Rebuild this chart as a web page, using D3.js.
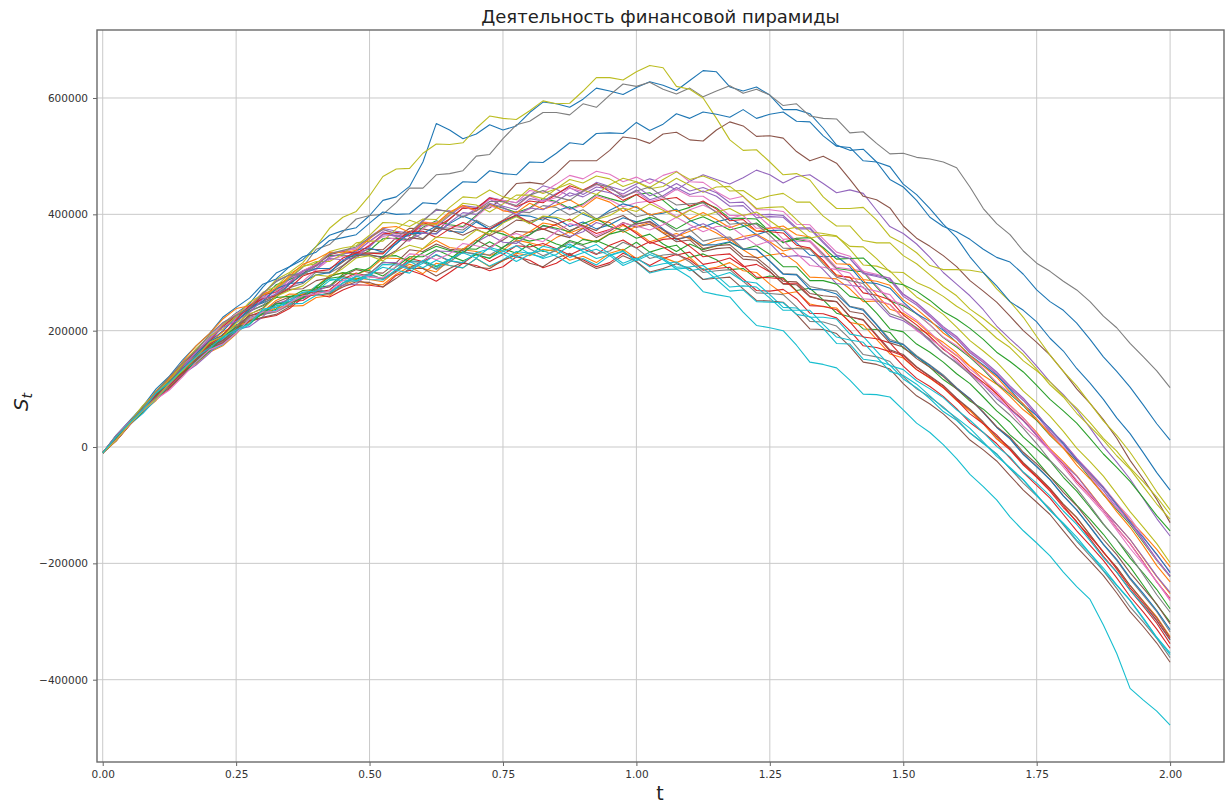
<!DOCTYPE html>
<html>
<head>
<meta charset="utf-8">
<script src="https://cdn.jsdelivr.net/npm/d3@7"></script>
<style>
  body { margin: 0; background: #fff; }
  svg { display: block; font-family: "DejaVu Sans", sans-serif; }
</style>
</head>
<body>
<svg id="chart" width="1227" height="803"></svg>
<script>
// time grid of the samples (t)
const tValues = [0, 0.025, 0.05, 0.075, 0.1, 0.125, 0.15, 0.175, 0.2, 0.225, 0.25, 0.275, 0.3, 0.325,
  0.35, 0.375, 0.4, 0.425, 0.45, 0.475, 0.5, 0.525, 0.55, 0.575, 0.6, 0.625, 0.65, 0.675, 0.7,
  0.725, 0.75, 0.775, 0.8, 0.825, 0.85, 0.875, 0.9, 0.925, 0.95, 0.975, 1.0, 1.025, 1.05, 1.075,
  1.1, 1.125, 1.15, 1.175, 1.2, 1.225, 1.25, 1.275, 1.3, 1.325, 1.35, 1.375, 1.4, 1.425, 1.45,
  1.475, 1.5, 1.525, 1.55, 1.575, 1.6, 1.625, 1.65, 1.675, 1.7, 1.725, 1.75, 1.775, 1.8, 1.825,
  1.85, 1.875, 1.9, 1.925, 1.95, 1.975, 2.0];

const xTicks = [0, 0.25, 0.5, 0.75, 1.0, 1.25, 1.5, 1.75, 2.0];
const yTicks = [-400000, -200000, 0, 200000, 400000, 600000];

// S_t paths, in thousands
const s00 = [-10,18,42,64,92,119,140,160,185,211,230,246,275,299,310,322,345,364,372,377,398,424,430,448,490,556,545,530,538,554,545,552,575,593,590,584,598,617,612,606,618,628,622,613,630,647,645,619,612,619,605,580,580,573,548,519,510,512,490,460,447,424,395,379,370,357,340,326,318,297,270,250,235,213,185,155,130,103,72,40,12];
const s01 = [-10,13,42,65,85,104,127,152,171,181,202,221,228,233,246,260,261,263,282,290,288,284,303,314,307,301,322,339,336,329,338,356,351,345,360,370,358,353,367,381,370,353,360,367,358,346,355,358,339,325,330,333,317,292,291,289,272,250,251,245,221,204,194,180,162,139,123,108,87,64,46,25,-2,-26,-47,-70,-97,-126,-150,-176,-206];
const s02 = [-10,18,41,60,84,105,133,152,167,194,210,216,230,237,257,269,271,290,293,288,298,318,315,308,320,310,322,341,340,353,341,333,349,336,340,355,348,355,345,338,352,335,342,347,326,332,322,305,307,289,294,291,269,273,253,230,224,203,202,197,170,156,137,116,100,79,65,45,21,1,-24,-51,-73,-100,-124,-150,-180,-206,-238,-271,-301];
const s03 = [-10,12,38,66,89,110,128,148,174,184,202,225,234,247,250,252,266,270,289,299,293,289,303,324,319,330,320,316,332,319,331,346,344,350,341,330,341,331,347,356,342,353,344,330,335,314,318,325,310,314,301,281,282,259,252,250,224,218,191,165,157,137,121,105,83,63,40,14,-5,-31,-52,-76,-104,-128,-158,-188,-215,-246,-274,-303,-338];
const s04 = [-10,18,43,65,93,121,144,161,183,209,228,239,263,286,296,299,313,331,337,341,361,376,371,368,390,407,406,396,409,429,424,420,433,449,443,431,439,455,448,441,452,461,454,442,457,468,460,452,463,476,468,454,465,468,453,437,442,436,407,379,367,349,326,300,280,260,236,208,186,165,139,112,90,64,33,1,-26,-55,-89,-123,-153];
const s05 = [-10,13,42,68,90,112,138,161,178,191,215,238,250,261,280,297,300,301,318,334,340,339,360,376,375,370,392,411,410,411,428,453,455,452,470,492,492,492,510,533,530,522,538,541,528,526,545,559,552,534,535,531,508,492,500,488,460,431,425,411,380,359,345,329,310,286,268,249,225,200,180,158,130,100,75,47,15,-23,-55,-90,-130];
const s06 = [-10,19,42,66,94,112,136,162,185,208,220,234,257,266,288,301,305,326,332,335,353,369,361,363,384,382,402,414,406,428,424,420,441,438,452,467,461,474,469,456,464,453,467,474,456,455,439,426,431,408,408,405,383,382,358,335,328,302,297,290,262,247,226,205,188,164,147,127,103,83,57,29,8,-19,-43,-68,-97,-122,-154,-186,-214];
const s07 = [-10,13,40,65,85,110,132,152,178,192,215,238,248,274,290,309,340,348,370,392,398,400,420,445,445,468,470,475,500,503,530,554,560,575,575,571,590,584,605,624,620,627,615,607,617,602,612,621,608,615,605,587,590,569,565,564,540,542,522,504,505,498,495,490,480,447,410,384,365,337,316,302,285,270,250,225,205,178,155,131,102];
const s08 = [-10,17,40,61,88,116,138,159,185,210,228,239,262,288,300,317,345,376,395,405,432,465,478,479,505,521,520,523,548,569,565,563,578,595,590,591,612,635,635,631,645,656,652,620,615,600,565,528,510,511,490,468,470,459,430,410,410,412,390,362,350,334,312,305,305,304,300,272,250,223,190,158,130,105,75,45,20,-9,-42,-77,-108];
const s09 = [-10,11,38,63,84,102,125,148,165,177,200,220,228,235,250,266,268,267,282,294,296,289,305,320,318,307,322,336,330,325,336,346,332,326,340,349,336,324,330,337,318,299,305,306,292,267,262,258,232,209,205,200,175,146,142,136,115,91,90,86,64,41,25,4,-20,-47,-68,-91,-120,-144,-165,-187,-215,-240,-262,-306,-355,-415,-435,-454,-478];
const s10 = [-10,20,45,70,100,122,150,174,195,223,240,256,280,289,310,327,335,355,360,365,385,404,400,401,420,418,438,456,455,475,470,468,490,489,505,523,520,539,540,539,558,544,555,573,565,576,572,567,580,565,572,576,560,559,535,517,515,492,490,482,452,434,410,383,360,327,300,277,250,235,215,187,165,135,110,82,50,23,-10,-44,-74];
const s11 = [-10,11,37,61,80,106,129,143,163,174,194,218,228,240,242,243,257,260,278,287,280,279,297,310,298,316,312,308,324,310,320,333,329,340,336,321,328,317,333,340,324,335,326,317,326,305,309,317,303,300,280,263,267,246,241,239,214,210,185,160,153,133,118,102,80,62,40,15,-3,-29,-50,-72,-99,-122,-151,-181,-207,-238,-265,-292,-326];
const s12 = [-10,18,43,66,96,120,138,160,187,212,230,237,256,279,288,297,317,329,330,326,338,358,359,356,378,389,382,379,398,417,411,403,411,427,422,410,418,434,427,421,434,437,424,405,412,421,411,393,393,392,370,351,357,353,331,307,304,301,275,251,243,229,210,188,172,154,133,109,91,71,46,20,-2,-24,-53,-82,-107,-133,-164,-195,-223];
const s13 = [-10,11,38,62,82,100,123,149,169,178,198,216,222,226,238,257,263,258,270,279,278,275,295,304,296,285,300,316,312,303,310,327,321,308,316,330,322,310,317,333,324,312,324,331,322,304,307,309,289,269,268,271,255,230,229,222,200,174,171,164,139,118,104,87,66,42,25,6,-19,-44,-66,-88,-116,-144,-169,-195,-225,-257,-284,-313,-346];
const s14 = [-10,20,44,65,90,112,141,167,189,211,222,237,260,269,290,303,307,327,332,336,354,370,363,363,382,379,398,415,412,426,414,408,427,423,436,446,434,447,443,435,448,432,440,453,440,446,437,420,421,399,400,398,377,377,353,330,324,298,293,287,259,244,224,203,186,162,145,125,101,80,54,26,4,-24,-49,-75,-105,-130,-162,-194,-222];
const s15 = [-10,12,39,68,92,113,131,146,167,183,208,226,230,249,258,258,271,275,294,305,300,299,317,339,336,349,340,338,356,344,356,371,369,375,366,360,376,360,371,386,378,383,368,353,356,336,341,343,323,321,302,280,279,258,253,250,224,219,193,167,159,138,122,106,84,65,43,18,-1,-27,-48,-71,-98,-121,-151,-181,-207,-238,-266,-294,-328];
const s16 = [-10,18,42,61,86,114,137,154,175,201,220,232,256,273,276,285,305,322,328,330,348,362,357,354,376,387,380,377,396,415,408,400,409,425,420,408,416,432,425,413,420,423,410,396,408,416,405,393,399,400,380,357,359,355,333,309,306,303,277,253,245,230,210,189,174,156,135,111,93,73,48,22,0,-22,-51,-80,-105,-131,-162,-194,-222];
const s17 = [-10,11,38,65,89,107,129,150,165,180,206,223,228,232,244,264,271,266,278,293,298,288,301,318,318,305,318,335,332,330,344,354,341,329,338,353,346,332,337,352,342,324,330,332,318,300,303,305,285,265,264,262,241,216,215,208,186,159,155,147,121,100,86,69,48,24,7,-12,-37,-62,-84,-106,-134,-162,-187,-213,-243,-275,-301,-329,-362];
const s18 = [-10,18,41,65,94,116,145,166,183,211,228,243,266,276,298,311,315,336,342,346,364,386,385,379,392,391,412,430,428,442,430,425,445,436,444,460,454,466,461,448,456,446,460,473,460,466,457,440,441,425,432,436,421,421,397,380,380,355,351,351,329,315,296,276,260,237,221,202,179,159,134,107,86,58,35,12,-15,-38,-68,-98,-124];
const s19 = [-10,11,37,62,82,108,131,145,165,176,196,220,230,243,246,247,261,264,282,293,288,287,305,319,308,321,312,308,324,311,322,336,333,338,328,315,324,313,329,336,320,331,322,306,308,288,293,300,285,282,262,240,239,223,223,220,194,190,165,140,133,114,100,85,64,46,25,1,-17,-43,-62,-84,-110,-133,-161,-190,-215,-246,-272,-299,-332];
const s20 = [-10,14,42,70,93,110,134,160,182,199,224,242,248,257,280,298,307,307,320,339,342,335,349,370,368,367,384,397,388,374,386,399,397,390,406,413,400,391,407,418,412,399,402,409,390,378,387,393,381,365,372,373,351,330,327,328,310,283,281,273,249,229,216,201,180,158,141,123,99,73,54,32,6,-22,-45,-70,-99,-129,-156,-184,-216];
const s21 = [-10,17,39,63,91,117,140,156,178,198,209,215,233,252,263,262,276,295,299,297,305,325,324,323,341,355,343,340,357,372,371,358,370,385,381,368,377,390,386,369,379,386,369,362,371,379,368,354,362,366,353,337,342,342,318,296,291,287,262,237,230,215,195,174,157,139,116,91,72,50,25,-3,-25,-49,-78,-107,-133,-159,-191,-223,-252];
const s22 = [-10,13,43,67,87,110,128,149,174,189,217,234,243,257,259,261,274,277,297,307,303,294,310,327,327,339,329,320,331,324,343,360,354,359,349,342,357,352,366,372,359,366,349,336,349,339,346,352,340,346,331,310,310,286,286,280,259,254,230,203,198,177,163,146,126,109,86,62,43,17,-3,-24,-52,-76,-104,-133,-159,-191,-217,-245,-278];
const s23 = [-10,18,42,65,94,116,143,165,181,207,226,237,262,267,282,303,313,331,336,333,346,366,369,364,386,378,392,411,410,428,422,413,423,420,434,449,442,453,439,424,434,420,426,429,414,423,409,389,391,371,370,368,347,342,321,294,292,265,261,253,227,210,190,168,152,129,111,92,67,46,20,-7,-30,-59,-83,-109,-139,-166,-198,-232,-260];
const s24 = [-10,16,38,58,84,107,125,141,161,185,202,207,224,246,254,255,267,278,278,280,298,317,317,306,320,337,336,333,352,365,352,350,365,380,374,362,370,386,379,372,384,387,374,362,376,384,373,356,357,364,350,327,329,326,305,281,278,275,249,225,217,202,182,161,146,128,107,83,65,45,20,-6,-28,-50,-79,-108,-133,-159,-190,-222,-250];
const s25 = [-10,12,41,65,85,102,124,150,170,179,199,217,223,228,241,261,268,263,275,284,283,275,290,307,307,294,307,318,309,307,321,330,316,310,325,333,319,307,314,329,319,301,307,315,307,288,290,292,272,252,251,249,228,203,202,195,173,146,142,134,109,88,74,57,36,12,-5,-24,-49,-74,-95,-116,-144,-172,-196,-221,-251,-283,-309,-337,-370];
const s26 = [-10,19,43,67,95,112,136,163,186,213,229,243,265,268,283,303,314,333,337,341,359,374,366,367,387,384,403,414,405,426,421,414,432,422,429,445,439,451,446,432,439,422,429,443,431,431,416,398,398,376,377,375,354,353,328,305,299,273,268,262,234,218,197,175,158,134,116,95,71,50,23,-5,-28,-57,-82,-108,-139,-166,-199,-232,-262];
const s27 = [-10,12,39,67,90,116,139,155,177,188,208,233,244,264,274,281,301,299,312,331,334,334,353,368,358,378,376,373,390,378,390,405,403,415,412,399,408,392,403,411,396,401,386,371,374,354,359,361,341,339,320,298,297,276,271,268,242,237,211,185,177,157,141,124,102,83,60,34,15,-12,-33,-56,-84,-108,-138,-168,-195,-227,-255,-283,-318];
const s28 = [-10,14,42,71,94,115,143,169,191,203,224,249,262,270,292,310,319,319,332,351,354,354,375,390,382,382,400,419,416,404,418,433,433,427,444,453,442,434,451,462,456,444,448,462,450,438,447,448,431,410,412,413,391,370,367,363,340,313,311,303,279,258,244,228,206,183,165,146,122,96,76,53,27,-2,-25,-50,-80,-111,-138,-166,-199];
const s29 = [-10,17,38,58,82,108,131,146,167,187,198,210,234,246,250,256,277,289,286,285,294,314,313,305,316,331,320,317,334,341,332,319,331,345,340,326,334,340,329,312,322,335,324,309,310,312,295,275,277,275,256,235,235,235,211,189,184,180,155,130,123,108,88,67,50,32,9,-16,-35,-56,-82,-109,-131,-155,-183,-212,-238,-264,-296,-328,-357];
const s30 = [-10,12,41,65,85,112,134,156,182,192,215,237,251,272,281,283,296,300,321,332,329,327,350,367,367,380,371,369,387,374,387,397,384,396,393,379,387,375,382,394,387,393,375,356,363,347,348,353,340,340,319,297,296,271,270,263,241,235,210,182,176,155,140,122,101,83,59,34,14,-13,-34,-56,-84,-108,-137,-167,-193,-225,-252,-281,-314];
const s31 = [-10,18,42,66,96,119,147,174,195,220,238,243,262,273,294,314,323,335,334,338,358,377,379,369,386,384,404,415,406,418,406,403,419,409,416,425,412,429,421,405,414,399,404,407,392,403,391,377,385,371,376,380,365,361,341,315,314,288,285,278,253,237,218,196,180,157,139,120,95,74,48,21,-2,-31,-55,-81,-111,-138,-170,-204,-232];
const s32 = [-10,16,38,61,90,112,129,145,165,189,206,212,230,246,248,256,275,293,300,296,308,328,329,319,334,345,338,334,352,372,366,357,365,381,376,370,384,393,379,373,386,395,388,375,388,396,385,373,379,385,370,352,359,360,343,323,324,325,303,283,279,268,252,233,220,204,185,163,147,129,106,82,62,41,15,-12,-35,-59,-88,-118,-144];
const s33 = [-10,10,37,65,89,106,128,155,176,192,219,243,255,260,273,294,302,305,325,334,333,332,354,371,371,360,375,386,377,375,389,399,386,374,383,392,379,367,374,383,367,350,357,359,345,327,330,332,312,292,291,289,268,243,242,236,215,189,186,179,154,133,119,102,81,57,40,21,-4,-29,-51,-73,-101,-129,-154,-180,-210,-242,-269,-298,-331];
const s34 = [-10,19,42,62,86,108,137,163,185,206,216,231,254,263,284,302,311,324,322,326,344,365,363,356,368,366,386,403,400,419,412,399,411,408,422,437,430,442,437,429,442,425,432,446,434,440,431,414,415,394,396,395,375,375,351,329,324,299,295,290,263,248,228,207,190,166,149,129,105,84,58,30,8,-20,-45,-71,-101,-127,-160,-193,-222];
const s35 = [-10,13,41,67,87,113,136,151,172,183,203,228,239,260,271,272,286,291,311,329,331,325,338,360,357,376,373,364,375,363,375,390,388,394,385,372,381,372,390,398,383,388,373,358,361,341,346,348,328,326,307,285,284,264,260,258,233,229,204,179,172,152,137,121,100,82,60,35,17,-9,-29,-51,-78,-101,-130,-159,-185,-216,-243,-270,-304];
const s36 = [-10,12,38,63,82,98,121,146,167,177,196,220,232,233,248,260,263,268,286,297,292,291,311,332,330,322,332,350,346,340,360,367,359,353,370,384,378,363,373,385,380,373,382,395,382,370,379,380,363,347,354,355,333,312,309,305,282,255,253,245,221,200,186,170,148,125,107,88,63,36,16,-7,-34,-63,-87,-113,-143,-174,-202,-231,-264];
const s37 = [-10,19,42,66,94,121,145,166,193,214,226,239,264,284,296,296,311,332,338,344,360,374,367,368,388,409,404,395,406,422,422,415,433,441,430,424,440,452,447,430,440,447,430,416,418,420,403,383,385,383,364,342,341,340,315,292,286,281,255,229,221,205,184,162,144,125,101,75,55,32,6,-23,-46,-71,-101,-132,-159,-186,-220,-254,-284];
const s38 = [-10,11,39,63,83,110,132,154,180,190,213,229,237,259,269,277,296,293,307,325,329,320,336,347,341,361,359,356,373,366,385,396,384,397,395,388,403,391,398,411,405,418,407,394,407,397,404,410,398,404,389,373,378,359,364,362,345,344,324,301,300,283,273,259,242,228,208,187,171,148,131,112,88,67,42,15,-7,-36,-60,-86,-116];
const s39 = [-10,17,41,64,93,111,134,155,170,189,201,212,237,240,253,266,268,286,291,286,297,309,304,299,321,311,323,334,325,343,337,326,334,324,331,346,339,348,332,316,325,310,315,318,303,307,288,268,270,250,249,248,228,224,204,178,177,151,148,141,117,102,83,61,46,24,6,-12,-37,-57,-83,-109,-132,-160,-183,-208,-237,-263,-294,-327,-354];

const series = [s00, s01, s02, s03, s04, s05, s06, s07, s08, s09,
                s10, s11, s12, s13, s14, s15, s16, s17, s18, s19,
                s20, s21, s22, s23, s24, s25, s26, s27, s28, s29,
                s30, s31, s32, s33, s34, s35, s36, s37, s38, s39];

series.forEach((s, i) => {
  if (s.length !== tValues.length) console.warn("series", i, "has", s.length, "points");
});

// matplotlib default colour cycle
const palette = ["#1f77b4", "#ff7f0e", "#2ca02c", "#d62728", "#9467bd",
                 "#8c564b", "#e377c2", "#7f7f7f", "#bcbd22", "#17becf"];

const svg = d3.select("#chart");
const plot = { left: 97, top: 30, right: 1224, bottom: 762 };

const x = d3.scaleLinear().domain([-0.0107, 2.101]).range([plot.left, plot.right]);
const y = d3.scaleLinear().domain([-541500, 716900]).range([plot.bottom, plot.top]);

svg.append("rect").attr("width", 1227).attr("height", 803).attr("fill", "#fff");

// grid
const grid = svg.append("g").attr("stroke", "#c9c9c9").attr("stroke-width", 1);
grid.selectAll("line.gx").data(xTicks).enter().append("line")
  .attr("x1", d => x(d)).attr("x2", d => x(d))
  .attr("y1", plot.top).attr("y2", plot.bottom);
grid.selectAll("line.gy").data(yTicks).enter().append("line")
  .attr("y1", d => y(d)).attr("y2", d => y(d))
  .attr("x1", plot.left).attr("x2", plot.right);

// clip to the axes box
svg.append("clipPath").attr("id", "clip")
  .append("rect")
  .attr("x", plot.left).attr("y", plot.top)
  .attr("width", plot.right - plot.left).attr("height", plot.bottom - plot.top);

const line = d3.line()
  .x((d, i) => x(tValues[i]))
  .y(d => y(d * 1000));

svg.append("g").attr("clip-path", "url(#clip)")
  .selectAll("path")
  .data(series)
  .enter().append("path")
    .attr("d", line)
    .attr("fill", "none")
    .attr("stroke", (d, i) => palette[i % 10])
    .attr("stroke-width", 1.1)
    .attr("stroke-linejoin", "round");

// axes
const fmtY = d => d3.format("d")(d).replace("-", "\u2212");
const xAxis = d3.axisBottom(x).tickValues(xTicks).tickFormat(d3.format(".2f")).tickSize(4).tickPadding(5);
const yAxis = d3.axisLeft(y).tickValues(yTicks).tickFormat(fmtY).tickSize(4).tickPadding(5);

const gx = svg.append("g").attr("transform", `translate(0,${plot.bottom})`).call(xAxis);
const gy = svg.append("g").attr("transform", `translate(${plot.left},0)`).call(yAxis);
[gx, gy].forEach(g => {
  g.select(".domain").remove();
  g.selectAll(".tick line").attr("stroke", "#666");
  g.selectAll(".tick text")
    .attr("fill", "#333")
    .style("font-family", "'DejaVu Sans', sans-serif")
    .style("font-size", "10.5px");
});

// spines
svg.append("rect")
  .attr("x", plot.left).attr("y", plot.top)
  .attr("width", plot.right - plot.left).attr("height", plot.bottom - plot.top)
  .attr("fill", "none").attr("stroke", "#6a6a6a").attr("stroke-width", 1.4);

// title and labels
svg.append("text")
  .attr("x", (plot.left + plot.right) / 2).attr("y", 23)
  .attr("text-anchor", "middle")
  .style("font-size", "18px").attr("fill", "#222")
  .text("Деятельность финансовой пирамиды");

svg.append("text")
  .attr("x", 660).attr("y", 800)
  .attr("text-anchor", "middle")
  .style("font-size", "19px").attr("fill", "#222")
  .text("t");

const yl = svg.append("text")
  .attr("transform", "translate(28,402) rotate(-90)")
  .attr("text-anchor", "middle")
  .attr("fill", "#222");
yl.append("tspan").style("font-size", "20px").style("font-style", "italic").text("S");
yl.append("tspan").style("font-size", "14px").style("font-style", "italic").attr("dy", 4).text("t");
</script>
</body>
</html>
